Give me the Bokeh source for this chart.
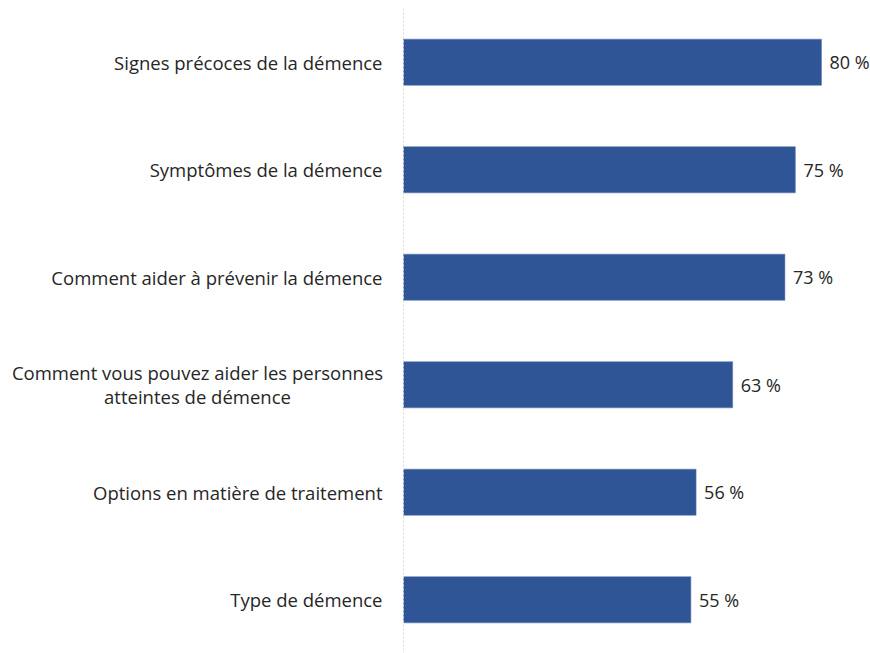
from bokeh.plotting import figure
from bokeh.models import ColumnDataSource, LabelSet, FactorRange, Range1d, Span
from bokeh.core.properties import value
from bokeh.embed import file_html
from bokeh.resources import INLINE

categories = [
    "Signes précoces de la démence",
    "Symptômes de la démence",
    "Comment aider à prévenir la démence",
    "Comment vous pouvez aider les personnes\natteintes de démence",
    "Options en matière de traitement",
    "Type de démence",
]
values = [80, 75, 73, 63, 56, 55]
value_labels = ["80 %", "75 %", "73 %", "63 %", "56 %", "55 %"]

FONT = "Open Sans"
FS = "18.5px"
TXT = "#262626"
PX_PER_UNIT = 418 / 80.0  # horizontal scale

src = ColumnDataSource(dict(cat=categories, val=values, lab=value_labels))

p = figure(width=870, height=653, output_backend="svg", toolbar_location=None,
           y_range=FactorRange(factors=categories[::-1]),
           x_range=Range1d(-403 / PX_PER_UNIT, 467 / PX_PER_UNIT),
           min_border_left=0, min_border_right=0, min_border_top=8, min_border_bottom=0)

p.hbar(y="cat", right="val", left=0, height=0.43, source=src,
       fill_color="#2F5597", line_color="#5a7ab5", line_width=0.5)

# value labels
p.add_layout(LabelSet(x="val", y="cat", text="lab", source=src, x_offset=8,
                      text_baseline="middle", text_align="left",
                      text_font=value(FONT), text_font_size="18px", text_color=TXT))

# baseline: dotted vertical line at 0
p.add_layout(Span(location=0, dimension="height", line_color="#d9d9d9",
                  line_dash="2 2", line_width=1))

p.xaxis.visible = False
p.yaxis.visible = False
p.xgrid.grid_line_color = None
p.ygrid.grid_line_color = None
p.outline_line_color = None

# category labels (multi-line ones are split and centred, as in the reference)
c_cat, c_txt, c_off, c_x = [], [], [], []
s_cat, s_txt = [], []
for c in categories:
    lines = c.split("\n")
    if len(lines) == 1:
        s_cat.append(c)
        s_txt.append(c)
    else:
        n = len(lines)
        for i, ln in enumerate(lines):
            c_cat.append(c)
            c_txt.append(ln)
            c_off.append(((n - 1) / 2 - i) * 24)

ssrc = ColumnDataSource(dict(cat=s_cat, txt=s_txt, x=[0] * len(s_cat)))
p.add_layout(LabelSet(x="x", y="cat", text="txt", source=ssrc, x_offset=-21,
                      text_align="right", text_baseline="middle",
                      text_font=value(FONT), text_font_size=FS, text_color=TXT))

msrc = ColumnDataSource(dict(cat=c_cat, txt=c_txt, off=c_off, x=[0] * len(c_cat)))
p.add_layout(LabelSet(x="x", y="cat", text="txt", source=msrc, x_offset=-206,
                      y_offset="off", text_align="center", text_baseline="middle",
                      text_font=value(FONT), text_font_size=FS, text_color=TXT))

open("out.html", "w").write(file_html(p, INLINE))
